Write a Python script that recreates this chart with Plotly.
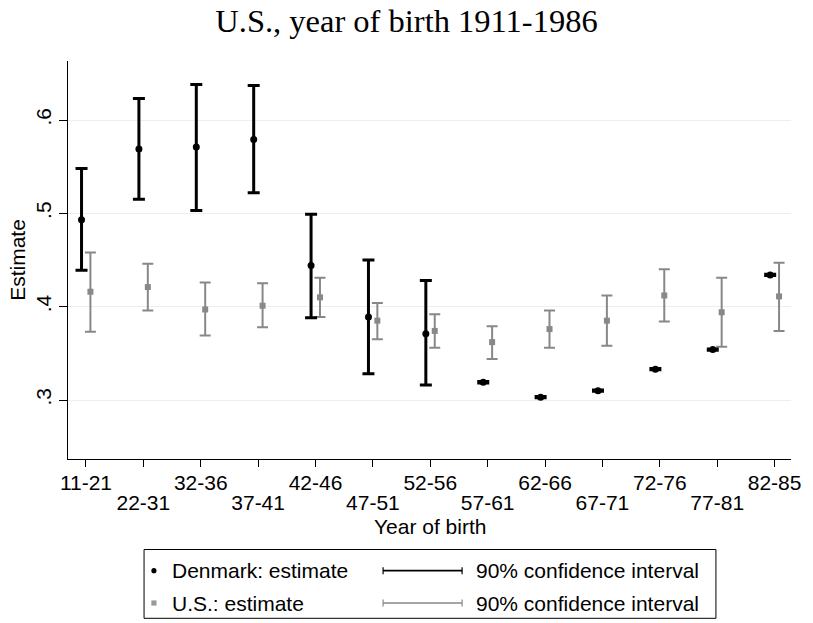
import plotly.graph_objects as go

# ---------------- data ----------------
cohorts = ["11-21", "22-31", "32-36", "37-41", "42-46", "47-51", "52-56",
           "57-61", "62-66", "67-71", "72-76", "77-81", "82-85"]

dk_est = [0.493, 0.569, 0.571, 0.579, 0.444, 0.389, 0.371, 0.319, 0.303, 0.310, 0.333, 0.354, 0.434]
dk_lo = [0.439, 0.515, 0.503, 0.522, 0.388, 0.328, 0.316, 0.3183, 0.3023, 0.3093, 0.3323, 0.3533, 0.4333]
dk_hi = [0.548, 0.623, 0.638, 0.637, 0.499, 0.450, 0.428, 0.3197, 0.3037, 0.3107, 0.3337, 0.3547, 0.4347]

us_est = [0.416, 0.421, 0.397, 0.401, 0.410, 0.385, 0.374, 0.362, 0.376, 0.385, 0.412, 0.394, 0.411]
us_lo = [0.373, 0.396, 0.369, 0.378, 0.389, 0.365, 0.356, 0.344, 0.356, 0.358, 0.384, 0.357, 0.374]
us_hi = [0.458, 0.446, 0.426, 0.425, 0.431, 0.404, 0.392, 0.379, 0.396, 0.412, 0.440, 0.431, 0.447]

y_ticks = [0.3, 0.4, 0.5, 0.6]
y_ticktext = [".3", ".4", ".5", ".6"]

title_text = "U.S., year of birth 1911-1986"
x_title = "Year of birth"
y_title = "Estimate"
legend_labels = ["Denmark: estimate", "U.S.: estimate", "90% confidence interval", "90% confidence interval"]

# ---------------- layout constants ----------------
W, H = 813, 623
ML, MR, MT, MB = 68, 13, 61, 164
PW, PH = W - ML - MR, H - MT - MB
SANS = "Liberation Sans, Arial, sans-serif"
FS = 21
DK_COLOR = "black"
US_COLOR = "#888888"
GRID = "#e9f0f2"

idx = list(range(len(cohorts)))
off = 0.0775
dk_x = [i - off for i in idx]
us_x = [i + off for i in idx]

fig = go.Figure()

fig.add_trace(go.Scatter(
    x=us_x, y=us_est, mode="markers",
    marker=dict(symbol="square", size=6, color=US_COLOR),
    error_y=dict(type="data", symmetric=False,
                 array=[h - e for h, e in zip(us_hi, us_est)],
                 arrayminus=[e - l for e, l in zip(us_est, us_lo)],
                 color=US_COLOR, thickness=2, width=5.5),
    showlegend=False, hoverinfo="skip"))

fig.add_trace(go.Scatter(
    x=dk_x, y=dk_est, mode="markers",
    marker=dict(symbol="circle", size=7, color=DK_COLOR),
    error_y=dict(type="data", symmetric=False,
                 array=[h - e for h, e in zip(dk_hi, dk_est)],
                 arrayminus=[e - l for e, l in zip(dk_est, dk_lo)],
                 color=DK_COLOR, thickness=3, width=6),
    showlegend=False, hoverinfo="skip"))

# dummy trace so the secondary label axis is drawn
fig.add_trace(go.Scatter(x=[None], y=[None], xaxis="x2", showlegend=False, hoverinfo="skip"))

x_range = [(ML - 86.2) / 58.1, (ML + PW - 86.2) / 58.1]
ppu_y = 933.33
y_range = [0.3 - (MT + PH - 400) / ppu_y, 0.3 + (400 - MT) / ppu_y]

even_text = [c if i % 2 == 0 else "" for i, c in enumerate(cohorts)]
odd_vals = [i for i in idx if i % 2 == 1]
odd_text = [cohorts[i] for i in odd_vals]

fig.update_layout(
    width=W, height=H,
    margin=dict(l=ML, r=MR, t=MT, b=MB, pad=0),
    paper_bgcolor="white", plot_bgcolor="white",
    font=dict(family=SANS, size=FS, color="black"),
    showlegend=False,
    title=dict(text=title_text, x=0.5, xref="container", xanchor="center",
               y=1 - 21 / H, yref="container", yanchor="middle",
               font=dict(family="Liberation Serif, Times New Roman, serif", size=32.5, color="black")),
    xaxis=dict(range=x_range, tickmode="array", tickvals=idx, ticktext=even_text,
               ticks="outside", ticklen=7, tickwidth=1, tickcolor="black",
               showline=True, linecolor="black", linewidth=1,
               showgrid=False, zeroline=False,
               tickfont=dict(family=SANS, size=FS), ticklabelstandoff=-2),
    xaxis2=dict(range=x_range, overlaying="x", matches="x", anchor="y", side="bottom",
                tickmode="array", tickvals=odd_vals, ticktext=odd_text,
                ticks="", showline=False, showgrid=False, zeroline=False,
                tickfont=dict(family=SANS, size=FS), ticklabelstandoff=29),
    yaxis=dict(range=y_range, tickmode="array", tickvals=y_ticks, ticktext=y_ticktext,
               ticks="outside", ticklen=8, tickwidth=1, tickcolor="black", tickangle=-90,
               showline=True, linecolor="black", linewidth=1,
               showgrid=True, gridcolor=GRID, gridwidth=1.2, zeroline=False,
               tickfont=dict(family=SANS, size=FS),
               title=dict(text=y_title, font=dict(family=SANS, size=FS), standoff=0)),
)

def px_x(p):
    return (p - ML) / PW

def px_y(p):
    return (MT + PH - p) / PH

# x axis title
fig.add_annotation(text=x_title, x=0.5, y=px_y(526), xref="paper", yref="paper",
                   xanchor="center", yanchor="middle", showarrow=False,
                   font=dict(family=SANS, size=FS, color="black"))

# ---------------- custom legend ----------------
shapes = []
shapes.append(dict(type="rect", xref="paper", yref="paper",
                   x0=px_x(145), x1=px_x(724), y0=px_y(618.3), y1=px_y(549.5),
                   line=dict(color="black", width=1), fillcolor="rgba(0,0,0,0)"))
rows = [570.7, 603.0]
r = 2.6
shapes.append(dict(type="circle", xref="paper", yref="paper",
                   x0=px_x(155 - r), x1=px_x(155 + r), y0=px_y(rows[0] + r), y1=px_y(rows[0] - r),
                   line=dict(color=DK_COLOR, width=0), fillcolor=DK_COLOR))
s = 2.6
shapes.append(dict(type="rect", xref="paper", yref="paper",
                   x0=px_x(155 - s), x1=px_x(155 + s), y0=px_y(rows[1] + s), y1=px_y(rows[1] - s),
                   line=dict(color="#999999", width=0), fillcolor="#999999"))
for yrow, col in zip(rows, [DK_COLOR, US_COLOR]):
    shapes.append(dict(type="line", xref="paper", yref="paper",
                       x0=px_x(387), x1=px_x(467), y0=px_y(yrow), y1=px_y(yrow),
                       line=dict(color=col, width=1.7)))
    for xe in (387, 467):
        shapes.append(dict(type="line", xref="paper", yref="paper",
                           x0=px_x(xe), x1=px_x(xe), y0=px_y(yrow - 3.5), y1=px_y(yrow + 3.5),
                           line=dict(color=col, width=1.2)))
fig.update_layout(shapes=shapes)

for txt, xp, yrow in [(legend_labels[0], 171.5, rows[0]), (legend_labels[1], 171.5, rows[1]),
                      (legend_labels[2], 479, rows[0]), (legend_labels[3], 479, rows[1])]:
    fig.add_annotation(text=txt, x=px_x(xp), y=px_y(yrow), xref="paper", yref="paper",
                       xanchor="left", yanchor="middle", showarrow=False,
                       font=dict(family=SANS, size=FS, color="black"))

fig.write_html("out.html", config={"displayModeBar": False},
               post_script="document.body.style.margin='0';document.body.style.padding='0';")
